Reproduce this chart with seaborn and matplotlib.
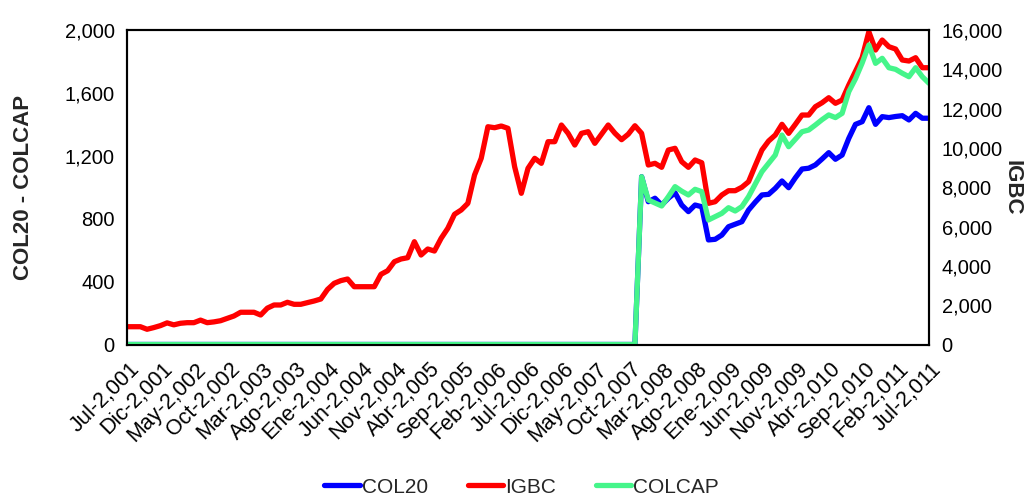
import numpy as np
import pandas as pd
import matplotlib
matplotlib.use("Agg")
import matplotlib.pyplot as plt
import matplotlib.transforms as mtransforms
import seaborn as sns
from matplotlib.ticker import FuncFormatter, FixedLocator

# ---------------- data (monthly, Jul-2001 .. Jul-2011) ----------------
igbc = [905, 905, 905, 775, 860, 960, 1100, 1000, 1080, 1110,
        1110, 1240, 1110, 1150, 1210, 1330, 1450, 1640, 1640, 1640,
        1500, 1850, 2010, 2010, 2147, 2045, 2045, 2130, 2213, 2315,
        2800, 3113, 3250, 3332, 2940, 2940, 2940, 2940, 3571, 3754,
        4212, 4350, 4416, 5230, 4553, 4858, 4756, 5400, 5911, 6623,
        6842, 7182, 8622, 9472, 11079, 11029, 11115, 10998, 9045, 7692,
        8963, 9472, 9218, 10317, 10317, 11166, 10743, 10148, 10743, 10826,
        10235, 10700, 11166, 10750, 10420, 10700, 11130, 10743, 9131, 9218,
        9014, 9894, 9981, 9300, 9014, 9386, 9248, 7182, 7264, 7605,
        7824, 7824, 8000, 8282, 9100, 9894, 10352, 10657, 11202, 10743,
        11200, 11674, 11674, 12098, 12300, 12555, 12270, 12438, 13201, 13900,
        14600, 15912, 14981, 15490, 15150, 15032, 14473, 14422, 14591, 14081,
        14081]

col20 = [0] * 77 + [
        1067, 908, 930, 887, 930, 965, 887, 845, 887, 876,
        665, 669, 696, 749, 765, 781, 855, 905, 951, 955,
        993, 1040, 997, 1060, 1116, 1121, 1142, 1180, 1220, 1178,
        1205, 1311, 1400, 1417, 1506, 1400, 1449, 1443, 1450, 1455,
        1428, 1470, 1439, 1439]

colcap = [0] * 77 + [
        1067, 919, 900, 881, 940, 1004, 975, 951, 987, 972,
        792, 813, 834, 870, 849, 877, 940, 1020, 1099, 1152,
        1205, 1332, 1258, 1305, 1353, 1364, 1396, 1430, 1460, 1443,
        1470, 1608, 1690, 1790, 1905, 1788, 1820, 1760, 1750, 1725,
        1703, 1760, 1703, 1661]

tick_labels = ["Jul-2,001", "Dic-2,001", "May-2,002", "Oct-2,002", "Mar-2,003",
               "Ago-2,003", "Ene-2,004", "Jun-2,004", "Nov-2,004", "Abr-2,005",
               "Sep-2,005", "Feb-2,006", "Jul-2,006", "Dic-2,006", "May-2,007",
               "Oct-2,007", "Mar-2,008", "Ago-2,008", "Ene-2,009", "Jun-2,009",
               "Nov-2,009", "Abr-2,010", "Sep-2,010", "Feb-2,011", "Jul-2,011"]

left_ticks = [0, 400, 800, 1200, 1600, 2000]
right_ticks = [0, 2000, 4000, 6000, 8000, 10000, 12000, 14000, 16000]

# ---------------- frame ----------------
month = np.arange(len(igbc))
df = pd.DataFrame({"m": month, "IGBC": igbc, "COL20": col20, "COLCAP": colcap})

sns.set_theme(style="white")
plt.rcParams["font.family"] = ["Liberation Sans", "DejaVu Sans"]

fig = plt.figure(figsize=(10.33, 4.98), dpi=100)
ax = fig.add_axes([127 / 1033, 1 - 344.5 / 498, (929 - 127) / 1033, 314.5 / 498])
ax2 = ax.twinx()

BLUE = "#0000FF"
RED = "#FF0000"
GREEN = "#45F58A"
LW = 3.8

sns.lineplot(data=df, x="m", y="IGBC", ax=ax2, color=RED, lw=LW, label="IGBC",
             legend=False)
sns.lineplot(data=df, x="m", y="COL20", ax=ax, color=BLUE, lw=LW, label="COL20",
             legend=False)
sns.lineplot(data=df, x="m", y="COLCAP", ax=ax, color=GREEN, lw=LW, label="COLCAP",
             legend=False)

ax.set_zorder(ax2.get_zorder() + 1)
ax.patch.set_visible(False)

n = len(igbc) - 1
ax.set_xlim(0, n)
ax.set_ylim(0, 2000)
ax2.set_ylim(0, 16000)

fmt = FuncFormatter(lambda v, p: f"{int(v):,}")
ax.set_yticks(left_ticks)
ax.yaxis.set_major_formatter(fmt)
ax2.set_yticks(right_ticks)
ax2.yaxis.set_major_formatter(fmt)

for a in (ax, ax2):
    a.tick_params(axis="y", length=0, labelsize=14.5, colors="black", pad=9)
    a.tick_params(axis="x", length=0, colors="black", pad=3)
    a.grid(False)
    for s in a.spines.values():
        s.set_color("black")
        s.set_linewidth(1.5)

ax.xaxis.set_major_locator(FixedLocator(list(range(0, n + 1, 5))))
ax.set_xticklabels(tick_labels, rotation=45, ha="right", va="top",
                   rotation_mode="anchor", fontsize=15.5)
shift = mtransforms.ScaledTranslation(2 / 100, -10 / 100, fig.dpi_scale_trans)
for lab in ax.get_xticklabels():
    lab.set_transform(lab.get_transform() + shift)

ax.set_xlabel("")
ax.set_ylabel("COL20 - COLCAP", fontsize=16, fontweight="bold", labelpad=22)
ax2.set_ylabel("IGBC", fontsize=16, fontweight="bold", rotation=270, labelpad=14)

h1, l1 = ax.get_legend_handles_labels()
h2, l2 = ax2.get_legend_handles_labels()
handles = {l: h for h, l in zip(h1 + h2, l1 + l2)}
order = ["COL20", "IGBC", "COLCAP"]
fig.legend([handles[k] for k in order], order, loc="center",
           bbox_to_anchor=(0.505, 1 - 487 / 498), ncol=3, frameon=False, fontsize=15,
           handlelength=1.7, handletextpad=0.1, columnspacing=1.9)

fig.savefig("out.png", dpi=100)
